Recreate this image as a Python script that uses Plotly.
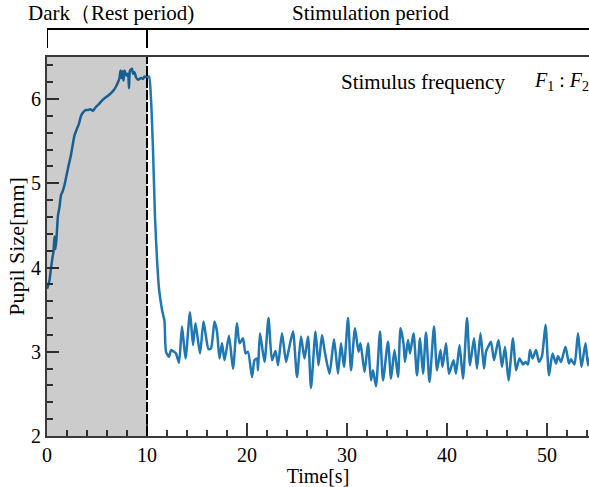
import plotly.graph_objects as go

time_s = [0.0, 0.08, 0.25, 0.4, 0.55, 0.65, 0.75, 0.85, 0.95, 1.1, 1.25, 1.4, 1.55, 1.75, 2.1, 2.4, 2.75, 3.0,
          3.2, 3.4, 3.6, 3.85, 4.1, 4.35, 4.6, 4.85, 5.1, 5.4, 5.75, 6.1, 6.4, 6.7, 6.9, 7.1, 7.25, 7.35, 7.45,
          7.55, 7.65, 7.75, 7.95, 8.1, 8.2, 8.3, 8.5, 8.6, 8.75, 8.9, 9.1, 9.4, 9.6, 9.75, 10.0, 10.2,
          10.4, 10.6, 10.8, 11.0, 11.2, 11.5, 11.75, 11.9,
          12.2, 12.4, 12.7, 12.9, 13.2, 13.5, 13.85, 14.3, 14.6, 14.85, 15.3, 15.65, 15.9, 16.15, 16.4, 16.75,
          17.0, 17.25, 17.5, 17.75, 18.2, 18.6, 19.0, 19.25, 19.6, 19.85, 20.1, 20.5, 20.75, 21.0, 21.1, 21.3,
          21.75, 22.15, 22.5, 22.85, 23.1, 23.5, 23.9, 24.15, 24.6, 25.0, 25.4, 25.75, 26.1, 26.4, 26.85, 27.15,
          27.5, 27.75, 28.25, 28.7, 29.1, 29.4, 29.7, 30.1, 30.4, 30.8, 31.15, 31.35, 31.75, 32.1, 32.4, 32.6,
          32.9, 33.3, 33.6, 34.1, 34.4, 34.75, 35.1, 35.35, 35.65, 35.8, 36.1, 36.3, 36.65, 37.0, 37.3, 37.6,
          37.9, 38.25, 38.7, 39.0, 39.35, 39.55, 39.9, 40.2, 40.65, 40.9, 41.25, 41.6, 42.0, 42.3, 42.7, 43.0,
          43.35, 43.7, 43.9, 44.2, 44.4, 44.7, 45.15, 45.5, 45.8, 46.15, 46.6, 46.9, 47.25, 47.6, 47.85, 48.1,
          48.3, 48.55, 48.9, 49.2, 49.5, 49.85, 50.2, 50.55, 50.9, 51.1, 51.4, 51.85, 52.2, 52.4, 52.75, 53.1,
          53.45, 53.85, 54.1, 54.4]

pupil_mm = [3.75, 3.77, 3.85, 3.99, 4.12, 4.19, 4.37, 4.22, 4.35, 4.62, 4.72, 4.86, 4.90, 4.98, 5.18, 5.34, 5.57, 5.65,
            5.71, 5.80, 5.84, 5.87, 5.87, 5.88, 5.86, 5.90, 5.93, 5.97, 6.01, 6.04, 6.07, 6.11, 6.15, 6.20, 6.25, 6.34, 6.25,
            6.33, 6.22, 6.34, 6.28, 6.30, 6.13, 6.34, 6.36, 6.30, 6.32, 6.26, 6.23, 6.25, 6.24, 6.27, 6.26, 6.27,
            6.00, 5.40, 4.60, 4.10, 3.75, 3.50, 3.36, 3.00,
            2.94, 3.02, 3.00, 2.98, 2.87, 3.30, 2.92, 3.47, 3.08, 3.34, 2.98, 3.36, 3.18, 3.03, 3.04, 3.36,
            3.24, 2.92, 3.10, 2.90, 3.19, 2.80, 3.34, 3.10, 3.16, 2.98, 3.00, 2.70, 2.90, 2.92, 2.78, 3.22,
            2.88, 3.40, 2.90, 3.01, 2.84, 3.22, 2.88, 3.01, 3.24, 2.70, 3.18, 2.92, 3.18, 2.57, 3.24, 2.84,
            3.20, 3.02, 2.74, 3.15, 2.74, 3.10, 2.82, 3.40, 2.78, 3.28, 3.00, 3.10, 2.76, 3.10, 2.66, 2.78,
            2.59, 3.24, 2.66, 3.12, 2.68, 3.02, 2.70, 3.28, 3.10, 2.88, 3.14, 2.98, 3.22, 2.72, 3.16, 2.74,
            3.23, 2.64, 3.30, 2.78, 3.02, 2.82, 3.10, 2.74, 2.90, 2.74, 3.08, 2.68, 3.40, 2.84, 3.16, 2.80,
            3.22, 2.80, 3.00, 3.08, 3.12, 2.90, 3.14, 2.82, 3.06, 2.66, 3.16, 2.78, 2.92, 2.85, 2.88, 2.85,
            3.02, 2.92, 3.02, 2.88, 2.95, 3.32, 2.72, 2.98, 2.86, 2.95, 2.88, 3.06, 2.86, 2.91, 2.85, 3.22,
            2.82, 3.10, 2.84, 3.00]

dark_end = 10
x_ticks = [0, 10, 20, 30, 40, 50]
y_ticks = [2, 3, 4, 5, 6]
period_labels = ["Dark\uff08Rest period)", "Stimulation period"]

SERIF = "Liberation Serif, Times New Roman, serif"
AXC = "#3a3a3a"

fig = go.Figure()
fig.add_trace(go.Scatter(x=time_s, y=pupil_mm, mode="lines",
                         line=dict(color="#1f77b4", width=2.5, shape="spline", smoothing=0.6),
                         showlegend=False, hoverinfo="skip"))

# gray shaded dark period (drawn above the line, translucent)
fig.add_shape(type="rect", xref="x", yref="paper", x0=0, x1=dark_end, y0=0, y1=1,
              fillcolor="rgba(0,0,0,0.2)", line_width=0, layer="above")
fig.add_shape(type="line", xref="x", yref="paper", x0=dark_end, x1=dark_end, y0=0, y1=1,
              line=dict(color="black", width=2, dash="10px,2px"), layer="above")

# top bracket
fig.add_shape(type="line", xref="paper", yref="paper", x0=0, x1=1, y0=1.074, y1=1.074,
              line=dict(color="black", width=2))
fig.add_shape(type="line", xref="x", yref="paper", x0=0, x1=0, y0=1.074, y1=1.024,
              line=dict(color="black", width=2))
fig.add_shape(type="line", xref="x", yref="paper", x0=dark_end, x1=dark_end, y0=1.074, y1=1.024,
              line=dict(color="black", width=2))

fig.add_annotation(x=0.118, xref="paper", y=1.115, yref="paper", text=period_labels[0], showarrow=False,
                   xanchor="center", yanchor="middle", font=dict(family=SERIF, size=21, color="black"))
fig.add_annotation(x=0.596, xref="paper", y=1.115, yref="paper", text=period_labels[1], showarrow=False,
                   xanchor="center", yanchor="middle", font=dict(family=SERIF, size=21, color="black"))
fig.add_annotation(x=0.538, xref="paper", y=0.935, yref="paper", text="Stimulus frequency",
                   showarrow=False, xanchor="left", yanchor="middle",
                   font=dict(family=SERIF, size=21, color="black"))
fig.add_annotation(x=0.895, xref="paper", y=0.935, yref="paper",
                   text="<i>F</i><sub>1</sub> : <i>F</i><sub>2</sub>",
                   showarrow=False, xanchor="left", yanchor="middle",
                   font=dict(family=SERIF, size=20, color="black"))

fig.update_layout(
    width=589, height=487,
    margin=dict(l=47, r=0, t=57, b=51, autoexpand=False),
    paper_bgcolor="white", plot_bgcolor="white",
    font=dict(family=SERIF, size=20, color="black"),
)
fig.update_xaxes(range=[0, 54.2], tickvals=x_ticks, ticks="inside", ticklen=13, tickwidth=1.5,
                 tickcolor=AXC, showline=True, linecolor=AXC, linewidth=2, mirror=True,
                 showgrid=False, zeroline=False, automargin=False,
                 minor=dict(dtick=2, ticks="inside", ticklen=6, tickwidth=1.5, tickcolor=AXC),
                 title=dict(text="Time[s]", font=dict(family=SERIF, size=20), standoff=0),
                 tickfont=dict(family=SERIF, size=20))
fig.update_yaxes(range=[2, 6.5], tickvals=y_ticks, ticks="inside", ticklen=12, tickwidth=1.5,
                 tickcolor=AXC, showline=True, linecolor=AXC, linewidth=2, mirror=True,
                 showgrid=False, zeroline=False, automargin=False,
                 minor=dict(dtick=0.2, tick0=2, ticks="inside", ticklen=6, tickwidth=1.5, tickcolor=AXC),
                 title=dict(text="Pupil Size[mm]", font=dict(family=SERIF, size=22), standoff=0),
                 tickfont=dict(family=SERIF, size=20))

# remove the browser's default 8px page margin so the figure sits at the window origin
fig.write_html("out.html", config={"displayModeBar": False},
               post_script="document.body.style.margin='0px';")
